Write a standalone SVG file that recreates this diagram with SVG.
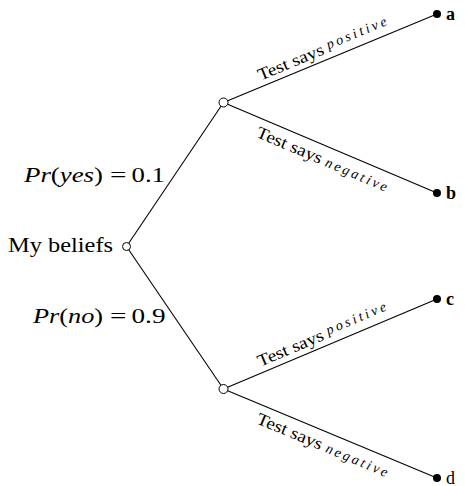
<svg xmlns="http://www.w3.org/2000/svg" width="465" height="486" viewBox="0 0 465 486">
<style>
.e{stroke:#000;stroke-width:1.1;fill:none}
.o{fill:#fff;stroke:#000;stroke-width:1}
.f{fill:#000}
.t{font-family:"Liberation Serif","DejaVu Serif",serif;fill:#000}
.it{font-style:italic}
.lb{font-size:22px}
.bl{font-size:17px}
.sm{font-size:14px;font-style:italic}
.lf{font-size:18px;font-weight:bold}
</style>
<rect width="465" height="486" fill="#fff"/>
<g id="connectors">
<line class="e" x1="126.5" y1="246.5" x2="223.5" y2="102.5"/>
<line class="e" x1="126.5" y1="246.5" x2="223.5" y2="389"/>
<line class="e" x1="223.5" y1="102.5" x2="437" y2="14"/>
<line class="e" x1="223.5" y1="102.5" x2="437" y2="193"/>
<line class="e" x1="223.5" y1="389" x2="437" y2="299"/>
<line class="e" x1="223.5" y1="389" x2="437" y2="478"/>
</g>
<g id="label-yes">
<text class="t lb it" x="24" y="182" textLength="79" lengthAdjust="spacingAndGlyphs">Pr<tspan font-style="normal">(</tspan>yes<tspan font-style="normal">)</tspan></text>
<text class="t lb" x="110" y="182" textLength="16.5" lengthAdjust="spacingAndGlyphs">=</text>
<text class="t lb" x="131.5" y="182" textLength="33.5" lengthAdjust="spacingAndGlyphs">0.1</text>
</g>
<g id="label-no">
<text class="t lb it" x="33" y="323" textLength="70" lengthAdjust="spacingAndGlyphs">Pr<tspan font-style="normal">(</tspan>no<tspan font-style="normal">)</tspan></text>
<text class="t lb" x="110" y="323" textLength="16.5" lengthAdjust="spacingAndGlyphs">=</text>
<text class="t lb" x="131.5" y="323" textLength="34" lengthAdjust="spacingAndGlyphs">0.9</text>
</g>
<g id="root">
<circle class="o" cx="126.5" cy="246.5" r="4"/>
<text class="t lb" x="8" y="252" textLength="105" lengthAdjust="spacingAndGlyphs">My beliefs</text>
</g>
<g id="n-yes"><circle class="o" cx="223.5" cy="102.5" r="4.5"/></g>
<g id="n-no"><circle class="o" cx="223.5" cy="389" r="4.5"/></g>
<g id="leaf-a"><circle class="f" cx="437" cy="14" r="4"/><text class="t lf" x="446" y="20">a</text></g>
<g id="leaf-b"><circle class="f" cx="437" cy="193" r="4"/><text class="t lf" x="446" y="199">b</text></g>
<g id="leaf-c"><circle class="f" cx="437" cy="299" r="4"/><text class="t lf" x="446" y="305">c</text></g>
<g id="leaf-d"><circle class="f" cx="437" cy="478" r="4"/><text class="t" style="font-size:18px" x="446" y="484">d</text></g>
<g id="edge-labels">
<g transform="translate(259,87.8) rotate(-22.5)">
<text class="t bl" x="4" y="-6" textLength="70" lengthAdjust="spacingAndGlyphs">Test says</text>
<text class="t sm" x="79" y="-9" textLength="64" lengthAdjust="spacing">positive</text>
</g>
<g transform="translate(259,117.5) rotate(23)">
<text class="t bl" x="4" y="19" textLength="70" lengthAdjust="spacingAndGlyphs">Test says</text>
<text class="t sm" x="79" y="19" textLength="66" lengthAdjust="spacing">negative</text>
</g>
<g transform="translate(259,374) rotate(-22.9)">
<text class="t bl" x="4" y="-6" textLength="70" lengthAdjust="spacingAndGlyphs">Test says</text>
<text class="t sm" x="79" y="-9" textLength="64" lengthAdjust="spacing">positive</text>
</g>
<g transform="translate(259,403.8) rotate(22.6)">
<text class="t bl" x="4" y="19" textLength="70" lengthAdjust="spacingAndGlyphs">Test says</text>
<text class="t sm" x="79" y="19" textLength="66" lengthAdjust="spacing">negative</text>
</g>
</g>
</svg>
